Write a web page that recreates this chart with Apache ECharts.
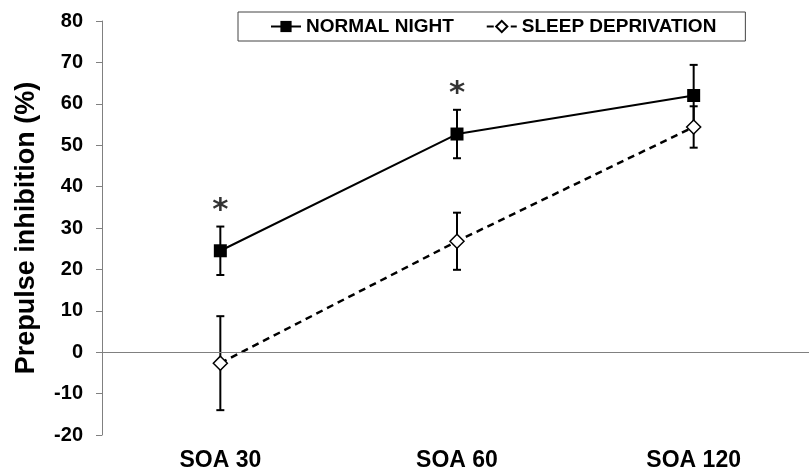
<!DOCTYPE html>
<html>
<head>
<meta charset="utf-8">
<script src="https://cdn.jsdelivr.net/npm/echarts@6/dist/echarts.min.js"></script>
<style>
html,body{margin:0;padding:0;background:#fff;}
#chart{width:809px;height:476px;}
</style>
</head>
<body>
<div id="chart"></div>
<script>
var categories = ['SOA 30', 'SOA 60', 'SOA 120'];
var normalMean = [24.5, 52.7, 62.0];
var normalErr = [5.85, 5.85, 7.4];
var sdMean = [-2.65, 26.8, 54.4];
var sdErr = [11.35, 6.9, 5.0];
var significance = ['*', '*', ''];
var yTicks = { min: -20, max: 80, step: 10 };

var FONT = '"Liberation Sans", Arial, sans-serif';

function errData(mean, err) {
  return mean.map(function (m, i) { return [i, m - err[i], m + err[i]]; });
}

function renderErr(params, api) {
  var x = api.value(0);
  var lo = api.coord([x, api.value(1)]);
  var hi = api.coord([x, api.value(2)]);
  var cap = 4;
  var style = { stroke: '#000', lineWidth: 2, fill: null };
  return {
    type: 'group',
    children: [
      { type: 'line', shape: { x1: lo[0], y1: lo[1], x2: hi[0], y2: hi[1] }, style: style },
      { type: 'line', shape: { x1: hi[0] - cap, y1: hi[1], x2: hi[0] + cap, y2: hi[1] }, style: style },
      { type: 'line', shape: { x1: lo[0] - cap, y1: lo[1], x2: lo[0] + cap, y2: lo[1] }, style: style }
    ]
  };
}

var sigData = [];
significance.forEach(function (s, i) {
  if (s) sigData.push({ value: [i, normalMean[i] + normalErr[i]], name: s });
});

var chart = echarts.init(document.getElementById('chart'), null, { renderer: 'canvas' });
chart.setOption({
  animation: false,
  backgroundColor: '#fff',
  grid: { left: 102, right: -3, top: 21, bottom: 41, containLabel: false, outerBoundsMode: 'none' },
  legend: {
    left: 238, top: 12,
    padding: [5, 29, 5, 32],
    borderColor: '#444', borderWidth: 1,
    itemWidth: 30, itemHeight: 14, itemGap: 32,
    textStyle: { fontFamily: FONT, fontWeight: 'bold', fontSize: 19, color: '#000' },
    data: ['NORMAL NIGHT', 'SLEEP DEPRIVATION']
  },
  xAxis: {
    type: 'category',
    data: categories,
    axisLine: { show: false },
    axisTick: { show: false },
    axisLabel: { margin: 14, fontFamily: FONT, fontWeight: 'bold', fontSize: 23, color: '#000' },
    splitLine: { show: false }
  },
  yAxis: {
    type: 'value',
    min: yTicks.min, max: yTicks.max, interval: yTicks.step,
    name: 'Prepulse inhibition (%)',
    nameLocation: 'middle',
    nameRotate: 90,
    nameGap: 62,
    nameTextStyle: { fontFamily: FONT, fontWeight: 'bold', fontSize: 27, color: '#000' },
    axisLine: { show: true, lineStyle: { color: '#808080', width: 1 } },
    axisTick: { show: true, length: 6, lineStyle: { color: '#808080', width: 1 } },
    axisLabel: { margin: 19, fontFamily: FONT, fontWeight: 'bold', fontSize: 20, color: '#000' },
    splitLine: { show: false }
  },
  series: [
    {
      type: 'custom', name: 'errNormal', renderItem: renderErr,
      data: errData(normalMean, normalErr), z: 2, silent: true
    },
    {
      type: 'custom', name: 'errSD', renderItem: renderErr,
      data: errData(sdMean, sdErr), z: 2, silent: true
    },
    {
      name: 'NORMAL NIGHT', type: 'line', data: normalMean, z: 4,
      symbol: 'rect', symbolSize: 13,
      lineStyle: { color: '#000', width: 2 },
      itemStyle: { color: '#000' },
      markLine: {
        silent: true, symbol: 'none', label: { show: false },
        lineStyle: { color: '#808080', width: 1, type: 'solid' },
        data: [{ yAxis: 0 }]
      }
    },
    {
      name: 'SLEEP DEPRIVATION', type: 'line', data: sdMean, z: 4,
      symbol: 'diamond', symbolSize: 14,
      lineStyle: { color: '#000', width: 2.5, type: [7, 5] },
      itemStyle: { color: '#fff', borderColor: '#000', borderWidth: 1.5 }
    },
    {
      type: 'scatter', name: 'sig', data: sigData, symbolSize: 0, z: 5, silent: true,
      label: {
        show: true, position: 'top', distance: 0,
        formatter: function (p) { return p.name; },
        fontFamily: '"DejaVu Sans", sans-serif', fontWeight: 'bold', fontSize: 31, color: '#000'
      }
    }
  ]
});
</script>
</body>
</html>
